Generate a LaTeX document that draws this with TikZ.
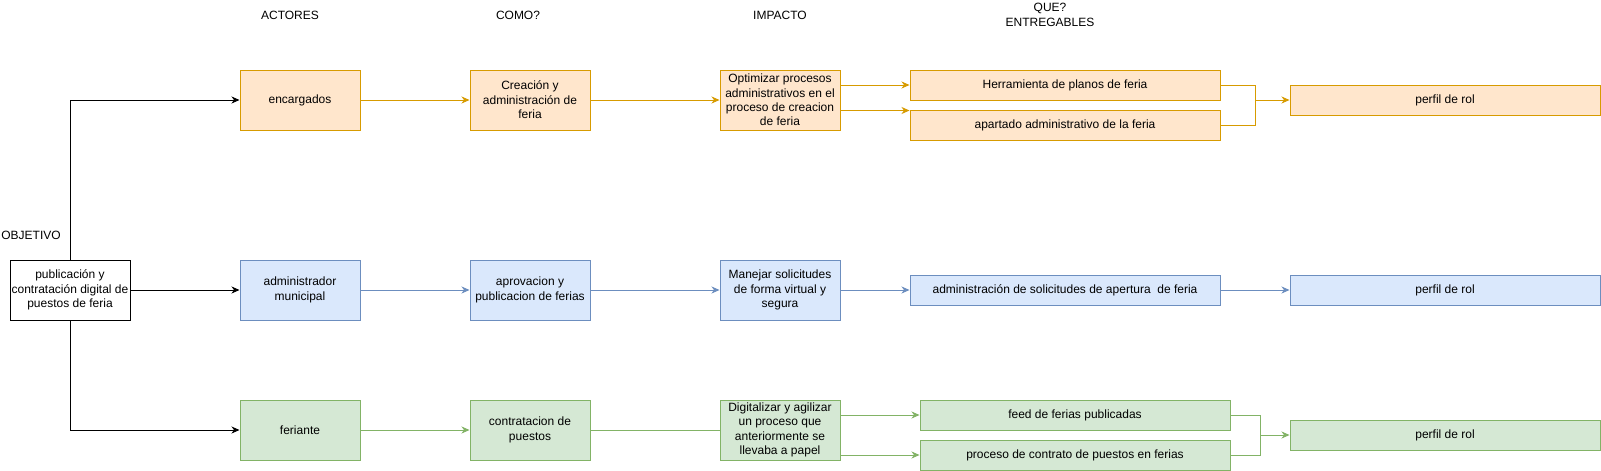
\documentclass[tikz,border=0pt]{standalone}
\usepackage{fontspec}
\setmainfont{Liberation Sans}
\usetikzlibrary{arrows.meta,calc}
\definecolor{ofill}{HTML}{FFE6CC}
\definecolor{ostroke}{HTML}{D79B00}
\definecolor{bfill}{HTML}{DAE8FC}
\definecolor{bstroke}{HTML}{6C8EBF}
\definecolor{gfill}{HTML}{D5E8D4}
\definecolor{gstroke}{HTML}{82B366}
\begin{document}
\begin{tikzpicture}[x=1pt,y=-1pt,
  txt/.style={inner sep=0pt, align=center, font=\fontsize{12}{14.4}\selectfont},
  box/.style={txt, draw, line width=1pt},
  smallbox/.style={box, minimum width=120pt, minimum height=60pt},
  widebox/.style={box, minimum width=310pt, minimum height=30pt},
  orange/.style={fill=ofill, draw=ostroke},
  blue/.style={fill=bfill, draw=bstroke},
  green/.style={fill=gfill, draw=gstroke},
  conn/.style={line width=1pt},
  arr/.style={conn, -{Stealth[length=8pt,width=7pt,inset=2.5pt]}},
]
\fill[white] (0,0) rectangle (1601,471);
\useasboundingbox (0,0) rectangle (1601,471);

% headers
\node[txt] (hact) at (290,15) {ACTORES};
\node[txt] (hcom) at (518,15) {COMO?};
\node[txt] (himp) at (780,15) {IMPACTO};
\node[txt] (hque) at (1050,15) {QUE?\\ENTREGABLES};
\node[txt] (hobj) at (31,235) {OBJETIVO};

% objective
\node[smallbox, fill=white, draw=black] (obj) at (70,290) {publicación y\\contratación digital de\\puestos de feria};

% row 1 orange
\node[smallbox, orange] (enc) at (300,100) {encargados};
\node[smallbox, orange] (cre) at (530,100) {Creación y\\administración de\\feria};
\node[smallbox, orange] (opt) at (780,100) {Optimizar procesos\\administrativos en el\\proceso de creacion\\de feria};
\node[widebox, orange] (her) at (1065,85) {Herramienta de planos de feria};
\node[widebox, orange] (apa) at (1065,125) {apartado administrativo de la feria};
\node[widebox, orange] (pr1) at (1445,100) {perfil de rol};

% row 2 blue
\node[smallbox, blue] (adm) at (300,290) {administrador\\municipal};
\node[smallbox, blue] (apr) at (530,290) {aprovacion y\\publicacion de ferias};
\node[smallbox, blue] (man) at (780,290) {Manejar solicitudes\\de forma virtual y\\segura};
\node[widebox, blue] (sol) at (1065,290) {administración de solicitudes de apertura \ de feria};
\node[widebox, blue] (pr2) at (1445,290) {perfil de rol};

% row 3 green
\node[smallbox, green] (fer) at (300,430) {feriante};
\node[smallbox, green] (con) at (530,430) {contratacion de\\puestos};
\node[smallbox, green] (dig) at (780,430) {Digitalizar y agilizar\\un proceso que\\anteriormente se\\llevaba a papel};
\node[widebox, green] (fee) at (1075,415) {feed de ferias publicadas};
\node[widebox, green] (pro) at (1075,455) {proceso de contrato de puestos en ferias};
\node[widebox, green] (pr3) at (1445,435) {perfil de rol};

% black connectors
\draw[arr, black] (obj.north) |- (enc.west);
\draw[arr, black] (obj.east) -- (adm.west);
\draw[arr, black] (obj.south) |- (fer.west);

% orange connectors
\draw[arr, ostroke] (enc.east) -- (cre.west);
\draw[arr, ostroke] (cre.east) -- (opt.west);
\draw[arr, ostroke] (opt.east |- her.west) -- (her.west);
\coordinate (oa) at ($(apa.north west)+(0,1)$);
\draw[arr, ostroke] (opt.east |- oa) -- (oa);
\coordinate (j1) at (1255,100);
\draw[conn, ostroke] (her.east) -| (j1);
\draw[conn, ostroke] (apa.east) -| (j1);
\draw[arr, ostroke] (j1) -- (pr1.west);

% blue connectors
\draw[arr, bstroke] (adm.east) -- (apr.west);
\draw[arr, bstroke] (apr.east) -- (man.west);
\draw[arr, bstroke] (man.east) -- (sol.west);
\draw[arr, bstroke] (sol.east) -- (pr2.west);

% green connectors
\draw[arr, gstroke] (fer.east) -- (con.west);
\draw[conn, gstroke] (con.east) -- (dig.west);
\draw[arr, gstroke] (dig.east |- fee.west) -- (fee.west);
\draw[arr, gstroke] (dig.east |- pro.west) -- (pro.west);
\coordinate (j3) at (1260,435);
\draw[conn, gstroke] (fee.east) -| (j3);
\draw[conn, gstroke] (pro.east) -| (j3);
\draw[arr, gstroke] (j3) -- (pr3.west);
\end{tikzpicture}
\end{document}
